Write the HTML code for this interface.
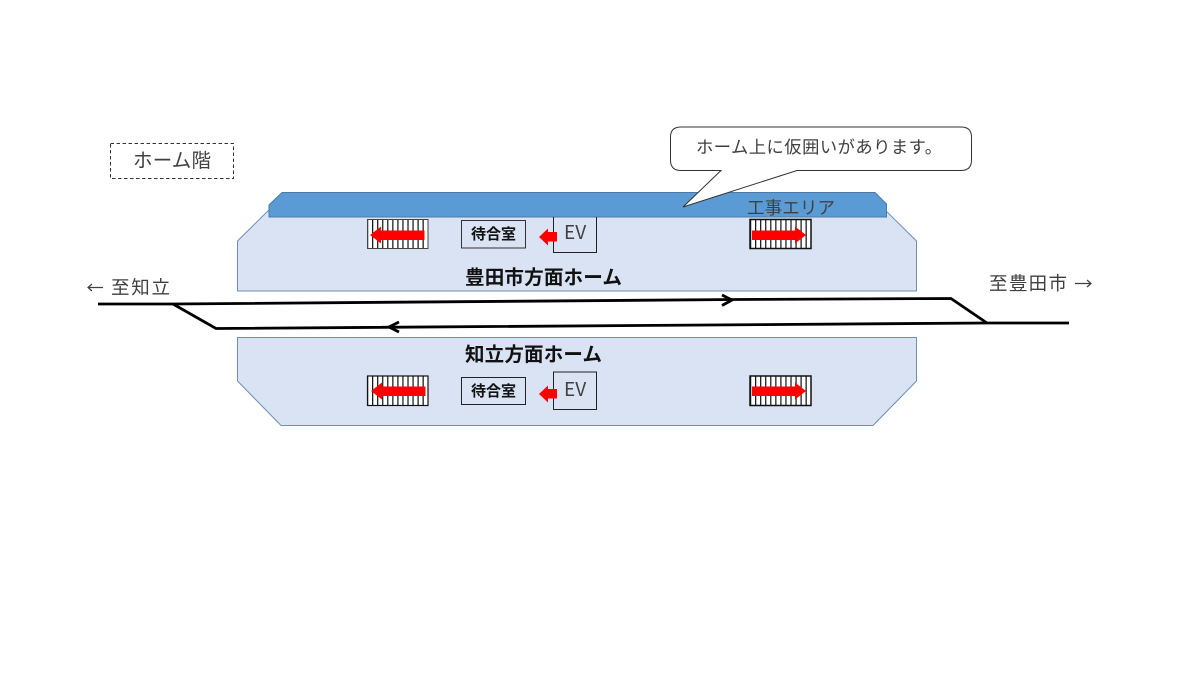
<!DOCTYPE html>
<html lang="ja">
<head>
<meta charset="utf-8">
<title>ホーム階</title>
<style>
html,body{margin:0;padding:0;background:#fff;width:1200px;height:675px;overflow:hidden}
svg{display:block}
text{font-family:"Liberation Sans","Noto Sans CJK JP",sans-serif;fill:#404040}
.b{font-weight:700;fill:#111}
.n{font-family:"Noto Sans CJK JP","Liberation Sans",sans-serif}
</style>
</head>
<body>
<svg width="1200" height="675" viewBox="0 0 1200 675" xmlns="http://www.w3.org/2000/svg">
<defs>
<pattern id="st" x="367" y="0" width="5.05" height="10" patternUnits="userSpaceOnUse">
<rect x="0" y="0" width="1.2" height="10" fill="#111"/>
</pattern>
<pattern id="st2" x="750" y="0" width="5.05" height="10" patternUnits="userSpaceOnUse">
<rect x="0" y="0" width="1.2" height="10" fill="#111"/>
</pattern>
</defs>

<!-- platforms -->
<polygon points="237.5,241 281,198 873,198 916.5,241 916.5,291 237.5,291" fill="#d9e3f3" stroke="#6d8fb3" stroke-width="1"/>
<polygon points="237.5,337.5 916.5,337.5 916.5,381 873,425.5 281,425.5 237.5,381" fill="#d9e3f3" stroke="#6d8fb3" stroke-width="1"/>

<!-- construction area -->
<polygon points="269,217 269,205 282,192.5 875,192.5 886.5,204 886.5,217" fill="#5b9bd5" stroke="#4a7ba8" stroke-width="1"/>

<!-- callout -->
<path d="M681,127 H961 Q971.5,127 971.5,137 V160 Q971.5,170.5 961,170.5 H797 L683,207 L721,170.5 H681 Q670.5,170.5 670.5,160 V137 Q670.5,127 681,127 Z" fill="#fff" stroke="#333" stroke-width="1"/>
<text class="n" x="696" y="153" font-size="17.3" textLength="246" lengthAdjust="spacing">ホーム上に仮囲いがあります。</text>
<text class="n" x="747" y="214" font-size="17.5" textLength="88" lengthAdjust="spacing">工事エリア</text>

<!-- floor label -->
<rect x="110.5" y="143.5" width="123" height="35" fill="#fff" stroke="#333" stroke-width="1" stroke-dasharray="3.5 2.5"/>
<text class="n" x="133" y="167" font-size="19.5" textLength="78" lengthAdjust="spacing">ホーム階</text>

<!-- stairs top -->
<rect x="367.5" y="219.5" width="60.5" height="29" fill="#fff"/>
<rect x="367.5" y="219.5" width="60.5" height="29" fill="url(#st)" stroke="#444" stroke-width="1"/>
<polygon points="370,235 381,226.5 381,230.5 424.5,230.5 424.5,240 381,240 381,243.5" fill="#ff0000"/>

<rect x="750" y="219.5" width="61" height="29" fill="#fff"/>
<rect x="750" y="219.5" width="61" height="29" fill="url(#st2)" stroke="#111" stroke-width="1.5"/>
<polygon points="806,235 795,226.5 795,230.5 752,230.5 752,240 795,240 795,243.5" fill="#ff0000"/>

<!-- stairs bottom -->
<rect x="367.5" y="376" width="60.5" height="29.5" fill="#fff"/>
<rect x="367.5" y="376" width="60.5" height="29.5" fill="url(#st)" stroke="#111" stroke-width="1.2"/>
<polygon points="371,391 382,382.5 382,386.5 425.5,386.5 425.5,396 382,396 382,399.5" fill="#ff0000"/>

<rect x="750" y="376" width="61" height="29.5" fill="#fff"/>
<rect x="750" y="376" width="61" height="29.5" fill="url(#st2)" stroke="#111" stroke-width="1.5"/>
<polygon points="806,391 795,382.5 795,386.5 752,386.5 752,396 795,396 795,399.5" fill="#ff0000"/>

<!-- waiting rooms -->
<rect x="461.5" y="220.5" width="64" height="27.5" fill="none" stroke="#333" stroke-width="1"/>
<text class="b n" x="471" y="239" font-size="15" textLength="45" lengthAdjust="spacing">待合室</text>
<rect x="461.5" y="377.5" width="64" height="27" fill="none" stroke="#222" stroke-width="1"/>
<text class="b n" x="471" y="396" font-size="15" textLength="45" lengthAdjust="spacing">待合室</text>

<!-- EV -->
<path d="M553.5,217 V252.5 H596.5 V217" fill="none" stroke="#222" stroke-width="1"/>
<text class="n" x="564" y="239" font-size="19">EV</text>
<polygon points="539,237 548,228.5 548,232 557,232 557,241.5 548,241.5 548,245.5" fill="#ff0000"/>

<rect x="553.5" y="372" width="43" height="37.5" fill="none" stroke="#222" stroke-width="1"/>
<text class="n" x="564" y="396" font-size="19">EV</text>
<polygon points="539,394 548,385.5 548,389 557,389 557,398.5 548,398.5 548,402.5" fill="#ff0000"/>

<!-- platform names -->
<text class="b n" x="465" y="284" font-size="19.6" textLength="157" lengthAdjust="spacing">豊田市方面ホーム</text>
<text class="b n" x="465" y="361" font-size="19.5" textLength="137" lengthAdjust="spacing">知立方面ホーム</text>

<!-- tracks -->
<g fill="none" stroke="#000" stroke-width="2.8">
<path d="M98,304 L173,304 L735,299.5 L951,298.5 L987,323 L1069,323"/>
<path d="M173,304 L216,328.5 L987,323"/>
<path d="M722,295 L732,300 L722,305.5"/>
<path d="M399,322 L389,327 L399,332"/>
</g>

<!-- direction labels -->
<g fill="none" stroke="#404040" stroke-width="1.2">
<path d="M88,287.5 H103 M92,284 L88,287.5 L92,291"/>
<path d="M1075,283.5 H1091 M1087,280 L1091,283.5 L1087,287"/>
</g>
<text class="n" x="111" y="294" font-size="18.5" textLength="59" lengthAdjust="spacing">至知立</text>
<text class="n" x="989" y="290" font-size="18.5" textLength="78" lengthAdjust="spacing">至豊田市</text>
</svg>
</body>
</html>
